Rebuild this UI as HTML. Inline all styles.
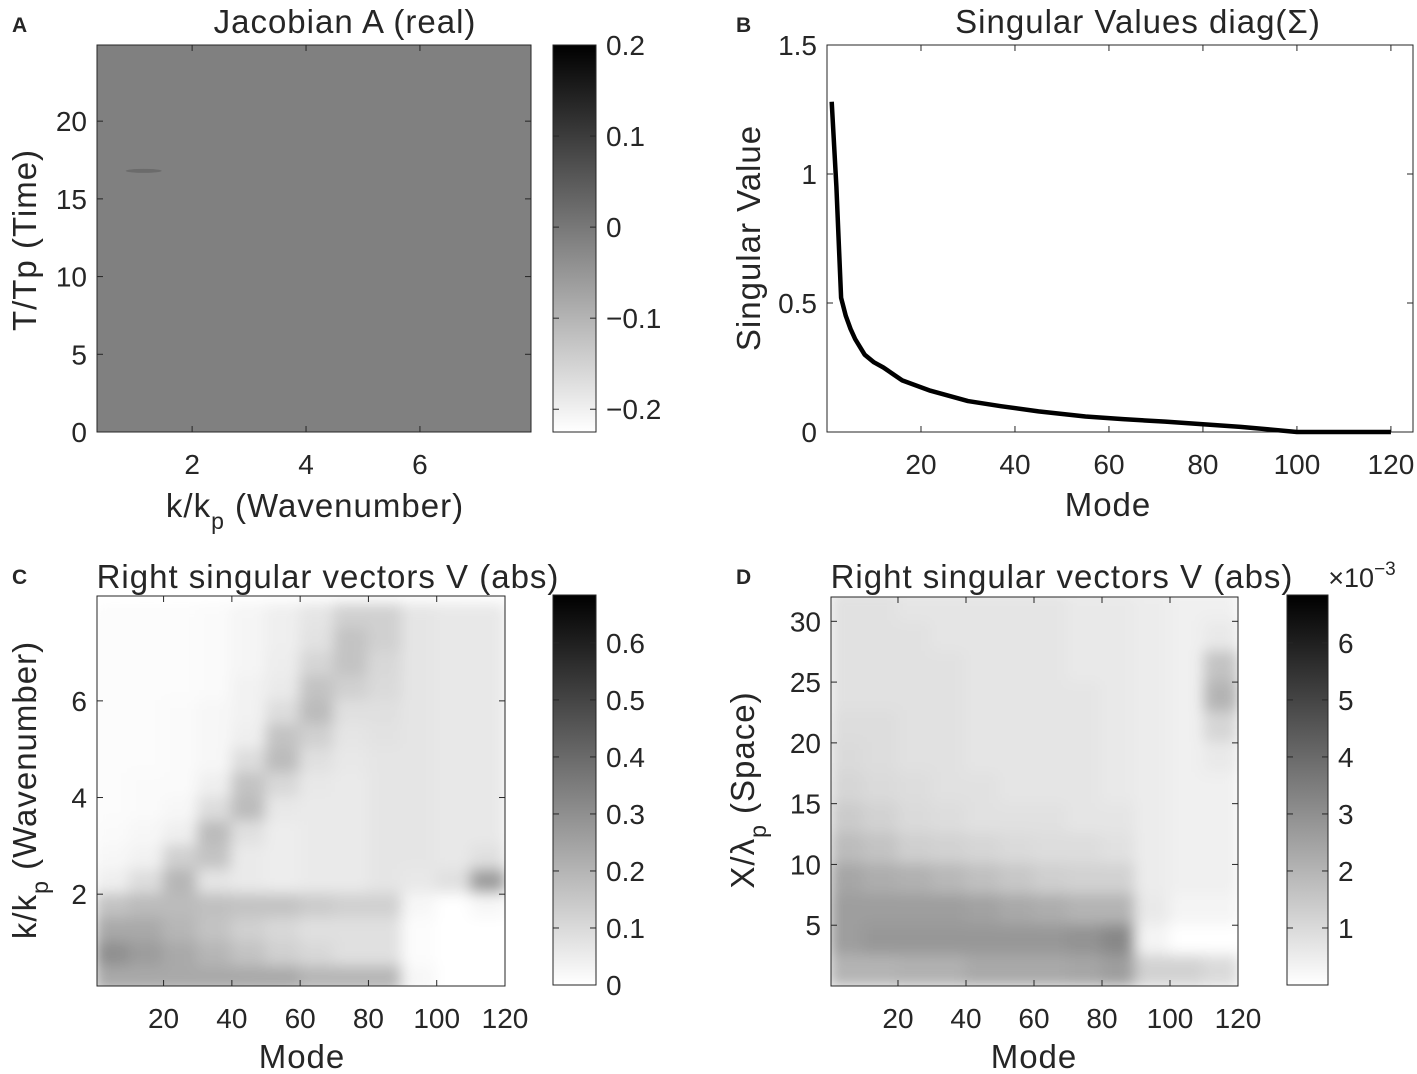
<!DOCTYPE html>
<html><head><meta charset="utf-8"><style>
html,body{margin:0;padding:0;background:#fff;}
svg{display:block;font-family:"Liberation Sans","DejaVu Sans",sans-serif;}
text{fill:#262626;}
</style></head><body>
<svg id="fig" width="1417" height="1074" viewBox="0 0 1417 1074" xmlns="http://www.w3.org/2000/svg">
<defs>
<linearGradient id="cbgrad" x1="0" y1="1" x2="0" y2="0"><stop offset="0" stop-color="#fff"/><stop offset="1" stop-color="#000"/></linearGradient>
<filter id="blur" x="-5%" y="-5%" width="110%" height="110%"><feGaussianBlur stdDeviation="7"/></filter>
<clipPath id="clipC"><rect x="97" y="596" width="408" height="390"/></clipPath>
<clipPath id="clipD"><rect x="831" y="597" width="407" height="389"/></clipPath>
</defs>
</svg>
<script>
// ---- Panel B data ----
const svModes = [1,2,3,4,5,6,8,10,12,16,22,30,37,45,55,63,72,80,88,94,100,110,120];
const svValues = [1.28,0.95,0.52,0.45,0.40,0.36,0.30,0.27,0.25,0.20,0.16,0.12,0.10,0.08,0.06,0.05,0.04,0.03,0.02,0.01,0.0,0.0,0.0];
// ---- Panel C data: 16 rows (k from 7.75 down to 0.25), 12 cols (mode bins of 10); units of 0.07 ----
const cRowsK = [7.75,7.25,6.75,6.25,5.75,5.25,4.75,4.25,3.75,3.25,2.75,2.25,1.75,1.25,0.75,0.25];
const cColsMode = [5,15,25,35,45,55,65,75,85,95,105,115];
const cValues = [
[0.1,0.1,0.1,0.2,0.4,0.6,1.0,1.8,1.8,1.0,0.9,0.9],
[0.1,0.1,0.1,0.2,0.4,0.6,1.1,2.3,1.8,1.0,0.9,0.9],
[0.1,0.1,0.1,0.2,0.4,0.7,1.6,2.3,1.5,1.0,0.9,0.9],
[0.1,0.1,0.1,0.2,0.5,0.8,2.3,1.8,1.4,1.0,0.9,0.9],
[0.1,0.1,0.2,0.3,0.5,1.3,2.6,1.2,1.2,1.0,0.9,0.9],
[0.1,0.1,0.2,0.3,0.6,2.3,1.8,1.0,1.1,1.0,0.9,0.9],
[0.1,0.1,0.2,0.3,1.3,2.6,1.2,0.9,1.0,1.0,0.9,0.9],
[0.1,0.2,0.2,0.6,2.3,1.5,0.9,0.8,1.0,1.0,0.9,0.9],
[0.1,0.2,0.3,1.3,2.6,0.9,0.8,0.8,1.0,1.0,0.9,0.9],
[0.2,0.3,0.6,2.6,1.2,0.7,0.8,0.8,1.0,1.0,0.9,0.9],
[0.3,0.5,1.8,2.3,0.8,0.7,0.8,0.8,1.0,1.0,0.9,1.2],
[0.6,1.3,2.8,1.0,0.8,0.7,0.8,0.8,1.0,0.9,1.2,3.8],
[2.3,2.6,2.6,2.4,2.3,2.3,2.0,1.8,1.8,0.3,0.0,0.3],
[3.3,3.3,2.8,2.3,1.8,1.5,1.2,1.2,1.2,0.1,0.0,0.0],
[4.3,3.8,3.3,2.8,2.3,1.8,1.5,1.2,1.2,0.1,0.0,0.0],
[3.3,3.3,3.3,3.3,3.3,3.3,2.8,2.8,2.8,0.3,0.0,0.0]];
// ---- Panel D data: 13 rows (X from 31.25 down to 1.25), 12 cols; units of 1e-3 ----
const dRowsX = [31.25,28.75,26.25,23.75,21.25,18.75,16.25,13.75,11.25,8.75,6.25,3.75,1.25];
const dValues = [
[0.8,0.8,0.7,0.7,0.7,0.7,0.7,0.6,0.6,0.5,0.4,0.4],
[0.8,0.8,0.8,0.7,0.7,0.7,0.7,0.6,0.6,0.5,0.4,0.6],
[0.8,0.8,0.8,0.8,0.7,0.7,0.7,0.6,0.6,0.5,0.4,1.6],
[0.8,0.8,0.8,0.8,0.7,0.7,0.7,0.7,0.6,0.5,0.4,2.0],
[0.9,0.9,0.8,0.8,0.7,0.7,0.7,0.7,0.6,0.5,0.4,1.1],
[1.0,0.9,0.8,0.8,0.7,0.7,0.7,0.7,0.6,0.5,0.4,0.6],
[1.1,1.0,0.9,0.8,0.8,0.7,0.7,0.7,0.6,0.5,0.4,0.4],
[1.4,1.2,1.0,0.9,0.8,0.8,0.8,0.7,0.7,0.5,0.4,0.4],
[1.8,1.6,1.3,1.2,1.1,1.0,0.9,0.9,0.8,0.5,0.4,0.4],
[2.4,2.2,2.1,1.9,1.7,1.5,1.3,1.2,1.2,0.5,0.4,0.4],
[2.6,2.6,2.6,2.6,2.5,2.3,2.2,2.0,2.0,0.6,0.3,0.3],
[2.6,2.8,2.8,2.8,2.8,2.8,2.8,2.9,3.2,0.3,0.0,0.0],
[2.0,2.0,2.1,2.1,2.3,2.3,2.3,2.4,2.6,1.2,1.2,1.0]];
const aValue = 0.0;

const NS = 'http://www.w3.org/2000/svg';
const fig = document.getElementById('fig');
function mk(parent, tag, attrs, name, txt) {
  const el = document.createElementNS(NS, tag);
  for (const k in attrs) el.setAttribute(k, attrs[k]);
  
  
  if (txt !== undefined) el.textContent = txt;
  parent.appendChild(el);
  return el;
}
function lin(d0, d1, r0, r1) { return v => r0 + (v - d0) * (r1 - r0) / (d1 - d0); }
function gray(f) { f = Math.max(0, Math.min(1, f)); const g = Math.round(255 * (1 - f)); return `rgb(${g},${g},${g})`; }

function axes(g, box, xlim, ylim, xticks, yticks, prefix) {
  const sx = lin(xlim[0], xlim[1], box.x, box.x + box.w);
  const sy = lin(ylim[0], ylim[1], box.y + box.h, box.y);
  return {sx, sy, draw() {
    mk(g, 'rect', {x: box.x, y: box.y, width: box.w, height: box.h, fill: 'none', stroke: '#262626', 'stroke-width': 1}, prefix + '-axes-box');
    xticks.forEach(t => {
      const x = sx(t);
      mk(g, 'line', {x1: x, x2: x, y1: box.y + box.h, y2: box.y + box.h - 6, stroke: '#262626'}, prefix + '-x-tick');
      mk(g, 'line', {x1: x, x2: x, y1: box.y, y2: box.y + 6, stroke: '#262626'}, prefix + '-x-tick-top');
      mk(g, 'text', {x: x, y: box.y + box.h + 42, 'font-size': 28, 'text-anchor': 'middle'}, prefix + '-x-tick-label', String(t));
    });
    yticks.forEach(t => {
      const y = sy(t);
      mk(g, 'line', {x1: box.x, x2: box.x + 6, y1: y, y2: y, stroke: '#262626'}, prefix + '-y-tick');
      mk(g, 'line', {x1: box.x + box.w, x2: box.x + box.w - 6, y1: y, y2: y, stroke: '#262626'}, prefix + '-y-tick-right');
      mk(g, 'text', {x: box.x - 10, y: y + 10, 'font-size': 28, 'text-anchor': 'end'}, prefix + '-y-tick-label', String(t));
    });
  }};
}
function colorbar(g, box, lim, ticks, labels, prefix) {
  const sy = lin(lim[0], lim[1], box.y + box.h, box.y);
  mk(g, 'rect', {x: box.x, y: box.y, width: box.w, height: box.h, fill: 'url(#cbgrad)', stroke: '#262626'}, prefix + '-colorbar');
  ticks.forEach((t, i) => {
    const y = sy(t);
    mk(g, 'line', {x1: box.x + box.w, x2: box.x + box.w - 6, y1: y, y2: y, stroke: '#262626'}, prefix + '-colorbar-tick');
    mk(g, 'line', {x1: box.x, x2: box.x + 6, y1: y, y2: y, stroke: '#262626'}, prefix + '-colorbar-tick-left');
    mk(g, 'text', {x: box.x + box.w + 10, y: y + 10, 'font-size': 28}, prefix + '-colorbar-label', labels[i]);
  });
}
function label(g, x, y, txt, name, rot, size) {
  const t = mk(g, 'text', {x: x, y: y, 'font-size': size || 33, 'letter-spacing': size ? 0 : 1, 'text-anchor': 'middle', transform: rot ? `rotate(-90 ${x} ${y})` : ''}, name);
  t.innerHTML = txt;
  return t;
}
function heat(g, ax, rows, cols, vals, rowStep, colStep, lim, clip, prefix) {
  const hg = mk(g, 'g', {'clip-path': `url(#${clip})`}, prefix + '-heatmap');
  const inner = mk(hg, 'g', {filter: 'url(#blur)'}, prefix + '-heatmap-cells');
  rows.forEach((r, i) => cols.forEach((c, j) => {
    const x0 = ax.sx(c - colStep / 2), x1 = ax.sx(c + colStep / 2);
    const y0 = ax.sy(r + rowStep / 2), y1 = ax.sy(r - rowStep / 2);
    mk(inner, 'rect', {x: x0 - 1, y: y0 - 1, width: x1 - x0 + 2, height: y1 - y0 + 2, fill: gray((vals[i][j] - lim[0]) / (lim[1] - lim[0]))}, prefix + '-cell');
  }));
}
function letter(g, x, y, t) { mk(g, 'text', {x: x, y: y, 'font-size': 21, 'font-weight': 'bold', fill: '#000'}, 'panel-label-' + t.toLowerCase(), t); }

// ===== Panel A =====
const gA = mk(fig, 'g', {}, 'panel-a');
const axA = axes(gA, {x: 97, y: 45, w: 434, h: 387}, [0.33, 7.95], [0, 24.9], [2, 4, 6], [0, 5, 10, 15, 20], 'a');
const aLim = [-0.225, 0.2];
const aDisp = [-0.19, 0.19];
mk(gA, 'rect', {x: 97, y: 45, width: 434, height: 387, fill: gray((aValue - aDisp[0]) / (aDisp[1] - aDisp[0]))}, 'a-heatmap');
mk(gA, 'ellipse', {cx: axA.sx(1.15), cy: axA.sy(16.8), rx: 18, ry: 2, fill: '#555', opacity: 0.5}, 'a-hotspot');
axA.draw();
colorbar(gA, {x: 553, y: 45, w: 43, h: 387}, aLim, [0.2, 0.1, 0, -0.1, -0.2], ['0.2', '0.1', '0', '\u22120.1', '\u22120.2'], 'a');
label(gA, 345, 33, 'Jacobian A (real)', 'a-title');
label(gA, 36, 240, 'T/Tp (Time)', 'a-y-axis-title', true);
label(gA, 315, 517, 'k/k<tspan font-size="23" dy="12">p</tspan><tspan dy="-12"> (Wavenumber)</tspan>', 'a-x-axis-title');
letter(gA, 12, 32, 'A');

// ===== Panel B =====
const gB = mk(fig, 'g', {}, 'panel-b');
const axB = axes(gB, {x: 827, y: 45, w: 586, h: 387}, [0, 124.7], [0, 1.5], [20, 40, 60, 80, 100, 120], [0, 0.5, 1, 1.5], 'b');
mk(gB, 'rect', {x: 827, y: 45, width: 586, height: 387, fill: '#fff'}, 'b-plot-background');
axB.draw();
mk(gB, 'polyline', {points: svModes.map((m, i) => axB.sx(m) + ',' + axB.sy(svValues[i])).join(' '), fill: 'none', stroke: '#000', 'stroke-width': 4.5, 'stroke-linejoin': 'round'}, 'b-singular-value-line');
label(gB, 1138, 33, 'Singular Values diag(\u03A3)', 'b-title');
label(gB, 760, 238, 'Singular Value', 'b-y-axis-title', true);
label(gB, 1108, 516, 'Mode', 'b-x-axis-title');
letter(gB, 736, 32, 'B');

// ===== Panel C =====
const gC = mk(fig, 'g', {}, 'panel-c');
const axC = axes(gC, {x: 97, y: 596, w: 408, h: 390}, [0.5, 120], [0.1, 8.17], [20, 40, 60, 80, 100, 120], [2, 4, 6], 'c');
const cLim = [0, 9.77];
heat(gC, axC, cRowsK, cColsMode, cValues, 0.5, 10, cLim, 'clipC', 'c');
axC.draw();
colorbar(gC, {x: 553, y: 595, w: 43, h: 390}, [0, 0.684], [0, 0.1, 0.2, 0.3, 0.4, 0.5, 0.6], ['0', '0.1', '0.2', '0.3', '0.4', '0.5', '0.6'], 'c');
label(gC, 328, 588, 'Right singular vectors V (abs)', 'c-title');
label(gC, 36, 790, 'k/k<tspan font-size="23" dy="12">p</tspan><tspan dy="-12"> (Wavenumber)</tspan>', 'c-y-axis-title', true);
label(gC, 302, 1068, 'Mode', 'c-x-axis-title');
letter(gC, 12, 584, 'C');

// ===== Panel D =====
const gD = mk(fig, 'g', {}, 'panel-d');
const axD = axes(gD, {x: 831, y: 597, w: 407, h: 389}, [0.3, 120], [0, 32], [20, 40, 60, 80, 100, 120], [5, 10, 15, 20, 25, 30], 'd');
const dLim = [0, 6.84];
heat(gD, axD, dRowsX, cColsMode, dValues, 2.5, 10, dLim, 'clipD', 'd');
axD.draw();
colorbar(gD, {x: 1287, y: 595, w: 41, h: 390}, dLim, [1, 2, 3, 4, 5, 6], ['1', '2', '3', '4', '5', '6'], 'd');
label(gD, 1062, 588, 'Right singular vectors V (abs)', 'd-title');
label(gD, 1362, 587, '\u00D710<tspan font-size="19" dy="-12">\u22123</tspan>', 'd-colorbar-exponent', false, 27);
label(gD, 754, 790, 'X/\u03BB<tspan font-size="23" dy="12">p</tspan><tspan dy="-12"> (Space)</tspan>', 'd-y-axis-title', true);
label(gD, 1034, 1068, 'Mode', 'd-x-axis-title');
letter(gD, 736, 584, 'D');
</script>
</body></html>
